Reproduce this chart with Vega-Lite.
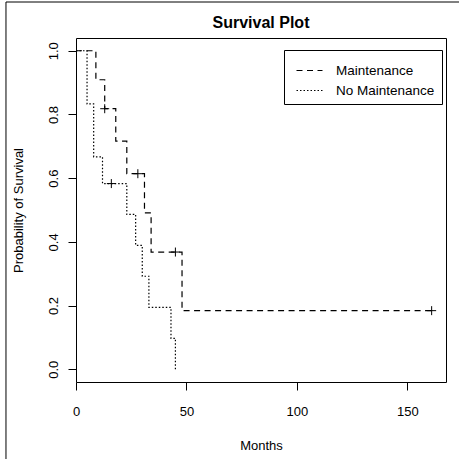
{
  "$schema": "https://vega.github.io/schema/vega-lite/v6.json",
  "width": 370,
  "height": 344,
  "autosize": {"type": "none"},
  "padding": {"left": 76, "top": 38, "right": 13, "bottom": 77},
  "background": "white",
  "title": {"text": "Survival Plot", "fontSize": 16, "fontWeight": "bold", "font": "Liberation Sans", "color": "black", "anchor": "middle", "baseline": "alphabetic", "offset": -25.5, "dy": 17},
  "config": {
    "font": "Liberation Sans",
    "view": {"stroke": "black", "strokeWidth": 1},
    "axis": {"grid": false, "domain": false, "tickColor": "black", "tickSize": 8, "labelFontSize": 13, "labelColor": "black", "titleFontSize": 13, "titleFontWeight": "normal", "titleColor": "black", "labelFont": "Liberation Sans", "titleFont": "Liberation Sans"}
  },
  "datasets": {
    "km": [
      {"group": "Maintenance", "time": 0, "surv": 1, "kind": "step"},
      {"group": "Maintenance", "time": 9, "surv": 0.909, "kind": "step"},
      {"group": "Maintenance", "time": 13, "surv": 0.818, "kind": "step"},
      {"group": "Maintenance", "time": 18, "surv": 0.716, "kind": "step"},
      {"group": "Maintenance", "time": 23, "surv": 0.614, "kind": "step"},
      {"group": "Maintenance", "time": 31, "surv": 0.491, "kind": "step"},
      {"group": "Maintenance", "time": 34, "surv": 0.368, "kind": "step"},
      {"group": "Maintenance", "time": 48, "surv": 0.184, "kind": "step"},
      {"group": "Maintenance", "time": 161, "surv": 0.184, "kind": "step"},
      {"group": "No Maintenance", "time": 0, "surv": 1, "kind": "step"},
      {"group": "No Maintenance", "time": 5, "surv": 0.833, "kind": "step"},
      {"group": "No Maintenance", "time": 8, "surv": 0.667, "kind": "step"},
      {"group": "No Maintenance", "time": 12, "surv": 0.583, "kind": "step"},
      {"group": "No Maintenance", "time": 23, "surv": 0.486, "kind": "step"},
      {"group": "No Maintenance", "time": 27, "surv": 0.389, "kind": "step"},
      {"group": "No Maintenance", "time": 30, "surv": 0.292, "kind": "step"},
      {"group": "No Maintenance", "time": 33, "surv": 0.194, "kind": "step"},
      {"group": "No Maintenance", "time": 43, "surv": 0.097, "kind": "step"},
      {"group": "No Maintenance", "time": 45, "surv": 0, "kind": "step"},
      {"group": "Maintenance", "time": 13, "surv": 0.818, "kind": "censor"},
      {"group": "Maintenance", "time": 28, "surv": 0.614, "kind": "censor"},
      {"group": "Maintenance", "time": 45, "surv": 0.368, "kind": "censor"},
      {"group": "Maintenance", "time": 161, "surv": 0.184, "kind": "censor"},
      {"group": "No Maintenance", "time": 16, "surv": 0.583, "kind": "censor"}
    ]
  },
  "layer": [
    {
      "data": {"values": [{"frame": "outer"}]},
      "mark": {"type": "rect", "fill": null, "stroke": "black", "strokeWidth": 1, "clip": false},
      "encoding": {
        "x": {"datum": -31.7, "type": "quantitative", "scale": {"domain": [0, 167.5], "nice": false, "zero": false}},
        "x2": {"datum": 300},
        "y": {"datum": 1.153, "type": "quantitative", "scale": {"domain": [-0.04, 1.04], "nice": false, "zero": false}},
        "y2": {"datum": -1}
      }
    },
    {
      "data": {"name": "km"},
      "transform": [{"filter": "datum.kind === 'step'"}],
      "mark": {"type": "line", "interpolate": "step-after", "stroke": "black", "strokeWidth": 1.2},
      "encoding": {
        "x": {"field": "time", "type": "quantitative", "title": "Months",
              "scale": {"domain": [0, 167.5], "nice": false, "zero": false},
              "axis": {"values": [0, 50, 100, 150], "labelBaseline": "alphabetic", "labelPadding": 25, "titleBaseline": "alphabetic", "titleY": 67, "labelFlush": false}},
        "y": {"field": "surv", "type": "quantitative", "title": "Probability of Survival",
              "scale": {"domain": [-0.04, 1.04], "nice": false, "zero": false},
              "axis": {"values": [0, 0.2, 0.4, 0.6, 0.8, 1], "format": ".1f", "labelAngle": 270, "labelAlign": "center", "labelBaseline": "alphabetic", "labelPadding": 11, "titleBaseline": "alphabetic", "titleX": -54, "labelFlush": false}},
        "strokeDash": {"field": "group", "type": "nominal",
              "scale": {"domain": ["Maintenance", "No Maintenance"], "range": [[6, 4.5], [1.5, 2]]},
              "legend": {"title": null, "orient": "none", "legendX": 208, "legendY": 12, "strokeColor": "black", "padding": 7, "labelFontSize": 13.5, "labelColor": "black", "labelOffset": 13, "symbolType": "stroke", "symbolSize": 676, "symbolOffset": 5, "symbolStrokeColor": "black", "symbolStrokeWidth": 1, "rowPadding": -7, "fillColor": "white"}}
      }
    },
    {
      "data": {"name": "km"},
      "transform": [{"filter": "datum.kind === 'censor'"}],
      "mark": {"type": "point", "shape": "M-1,0H1M0,-1V1", "size": 81, "filled": false, "stroke": "black", "strokeWidth": 1, "opacity": 1},
      "encoding": {
        "x": {"field": "time", "type": "quantitative"},
        "y": {"field": "surv", "type": "quantitative"}
      }
    }
  ]
}
